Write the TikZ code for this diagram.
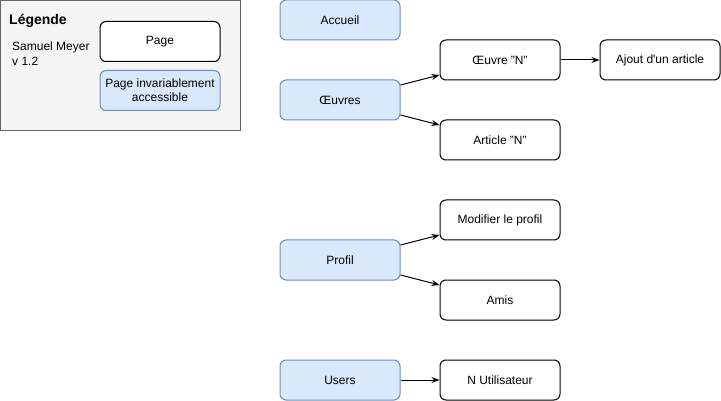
\documentclass[tikz,border=0pt]{standalone}
\usepackage{fontspec}
\setmainfont{Liberation Sans}
\usetikzlibrary{arrows.meta}
\definecolor{bluefill}{HTML}{DAE8FC}
\definecolor{bluedraw}{HTML}{6C8EBF}
\definecolor{legfill}{HTML}{F5F5F5}
\definecolor{legdraw}{HTML}{666666}
\tikzset{
  pagebox/.style={draw=black, fill=white, rounded corners=6pt, line width=1pt,
    minimum width=120pt, minimum height=40pt, inner sep=0pt, align=center,
    font=\fontsize{12}{14}\selectfont},
  fixbox/.style={pagebox, draw=bluedraw, fill=bluefill},
  conn/.style={-{Stealth[length=8pt,width=6pt]}, line width=1pt},
}
\begin{document}
\begin{tikzpicture}[x=1pt,y=-1pt]
\useasboundingbox (0,0) rectangle (721,401);
% legend
\node[draw=legdraw, fill=legfill, line width=1pt, minimum width=240pt, minimum height=130pt, inner sep=0pt] (leg) at (120.5,65.5) {};
\node[anchor=west, font=\fontsize{14}{16}\selectfont\bfseries, inner sep=0pt] (legt) at (9,21) {Légende};
\node[anchor=north west, align=left, font=\fontsize{12}{15}\selectfont, inner sep=0pt] (auth) at (12,42) {Samuel Meyer\\v 1.2};
\node[pagebox] (lp) at (160,41.5) {Page};
\node[fixbox] (lf) at (160,90.5) {Page invariablement\\accessible};
% main
\node[fixbox] (acc) at (340,20) {Accueil};
\node[fixbox] (oeu) at (340,100) {Œuvres};
\node[pagebox] (oeun) at (500,60) {Œuvre "N"};
\node[pagebox] (ajout) at (660,60) {Ajout d\textquotesingle un article};
\node[pagebox] (art) at (500,140) {Article "N"};
\node[fixbox] (prof) at (340,260) {Profil};
\node[pagebox] (mod) at (500,220) {Modifier le profil};
\node[pagebox] (amis) at (500,300) {Amis};
\node[fixbox] (users) at (340,380) {Users};
\node[pagebox] (nut) at (500,380) {N Utilisateur};
% connectors
\draw[conn] (oeu.east |- 0,85) -- (oeun.west |- 0,75);
\draw[conn] (oeu.east |- 0,115) -- (art.west |- 0,125);
\draw[conn] (prof.east |- 0,245) -- (mod.west |- 0,235);
\draw[conn] (prof.east |- 0,275) -- (amis.west |- 0,285);
\draw[conn] (users) -- (nut);
\draw[conn] (oeun) -- (ajout);
\end{tikzpicture}
\end{document}
